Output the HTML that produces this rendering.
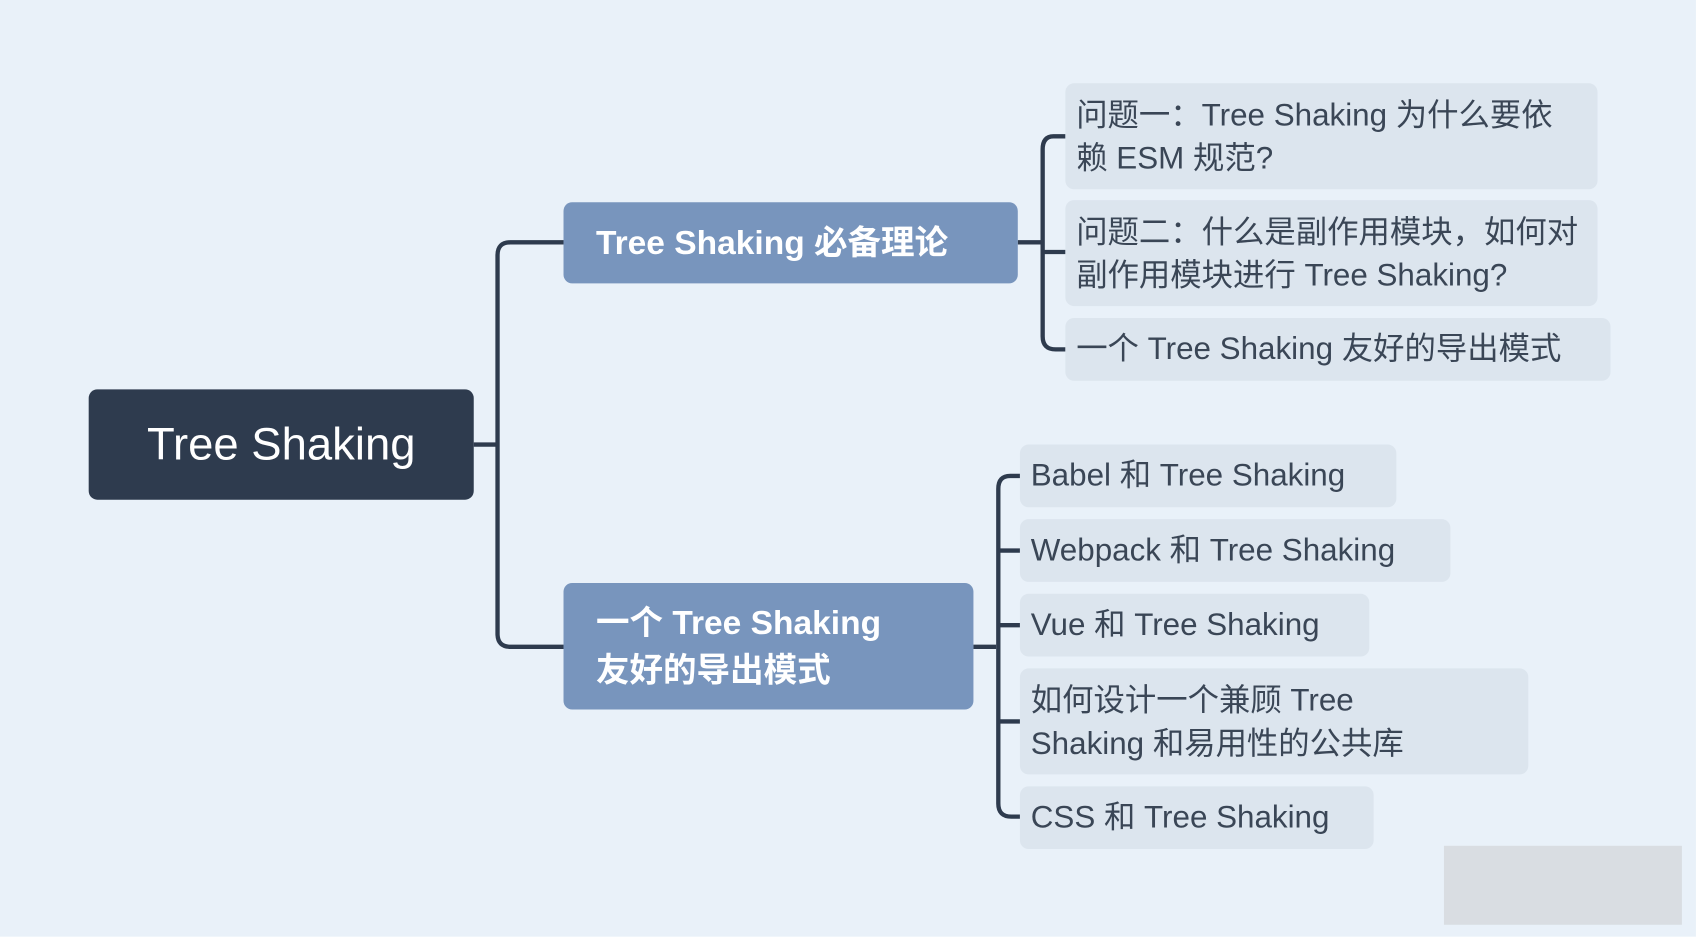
<!DOCTYPE html>
<html><head><meta charset="utf-8"><style>
html,body{margin:0;padding:0;width:1696px;height:942px;overflow:hidden;background:#fff}
#w{position:absolute;left:0;top:0;width:1568px;height:866px;transform:scale(1.0816);transform-origin:0 0;background:#e9f1f9}
.n{position:absolute;box-sizing:border-box;border-radius:8px;font-family:"Liberation Sans","Noto Sans CJK SC",sans-serif}
.l{background:#dce5ee;color:#3a4656;font-size:29px;line-height:40px;padding:10px 10px 0 10px}
.b{background:#7895bd;color:#fff;font-weight:bold;font-size:31px;line-height:44px;padding:0 30px}
</style></head><body><div id="w">
<svg width="1568" height="866" style="position:absolute;left:0;top:0">
<g fill="none" stroke="#2e3b4e" stroke-width="4">
<path d="M438 411 H460"/>
<path d="M521 224 H472 Q460 224 460 236 V586 Q460 598 472 598 H521"/>
<path d="M941 224 H962"/>
<path d="M985 126 H974 Q964 126 964 138 V311 Q964 323 976 323 H985"/>
<path d="M964 233 H985"/>
<path d="M900 598 H921"/>
<path d="M943 440 H934 Q923 440 923 452 V743 Q923 755 935 755 H943"/>
<path d="M923 509 H943 M923 578 H943 M923 667 H943"/>
</g>
<rect x="1335" y="782" width="220" height="73" fill="#d9dde2"/>
</svg>
<div class="n" style="left:82px;top:360px;width:356px;height:102px;background:#2e3b4e;color:#fff;font-size:42px;line-height:102px;text-align:center">Tree Shaking</div>
<div class="n b" style="left:521px;top:187px;width:420px;height:75px;line-height:75px">Tree Shaking 必备理论</div>
<div class="n b" style="left:521px;top:539px;width:379px;height:117px;padding-top:15px">一个 Tree Shaking<br>友好的导出模式</div>
<div class="n l" style="left:985px;top:77px;width:492px;height:98px">问题一：Tree Shaking 为什么要依<br>赖 ESM 规范?</div>
<div class="n l" style="left:985px;top:185px;width:492px;height:98px">问题二：什么是副作用模块，如何对<br>副作用模块进行 Tree Shaking?</div>
<div class="n l" style="left:985px;top:294px;width:504px;height:58px;padding-top:9px">一个 Tree Shaking 友好的导出模式</div>
<div class="n l" style="left:943px;top:411px;width:348px;height:58px;padding-top:9px">Babel 和 Tree Shaking</div>
<div class="n l" style="left:943px;top:480px;width:398px;height:58px;padding-top:9px">Webpack 和 Tree Shaking</div>
<div class="n l" style="left:943px;top:549px;width:323px;height:58px;padding-top:9px">Vue 和 Tree Shaking</div>
<div class="n l" style="left:943px;top:618px;width:470px;height:98px">如何设计一个兼顾 Tree<br>Shaking 和易用性的公共库</div>
<div class="n l" style="left:943px;top:727px;width:327px;height:58px;padding-top:9px">CSS 和 Tree Shaking</div>
</div></body></html>
